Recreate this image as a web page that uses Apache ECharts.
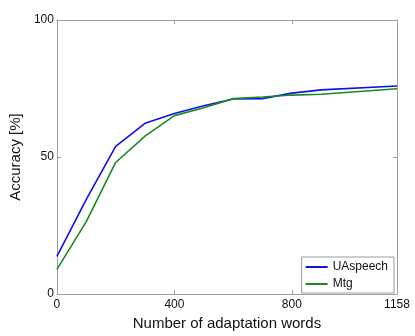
<!DOCTYPE html>
<html>
<head>
<meta charset="utf-8">
<script src="https://cdn.jsdelivr.net/npm/echarts@6/dist/echarts.min.js"></script>
<style>
  html, body { margin: 0; padding: 0; background: #fff; }
  #chart { width: 415px; height: 336px; }
</style>
</head>
<body>
<div id="chart"></div>
<script>
// adaptation word counts
const words = [0, 100, 200, 300, 400, 500, 600, 700, 800, 900, 1158];
const uaspeech = [13.7, 34.5, 53.9, 62.3, 65.9, 68.7, 71.2, 71.3, 73.3, 74.5, 75.9];
const mtg = [9.0, 26.4, 48.0, 57.6, 65.1, 68.0, 71.3, 71.9, 72.6, 72.9, 74.9];
const seriesNames = ['UAspeech', 'Mtg'];

const font = 'Liberation Sans, Arial, sans-serif';
const frame = '#a0a0a0';

const chart = echarts.init(document.getElementById('chart'));

function pairs(ys) {
  return words.map((x, i) => [x, ys[i]]);
}

const xBase = {
  type: 'value',
  min: 0,
  max: 1158,
  interval: 400,
  axisLine: { show: true, onZero: false, lineStyle: { color: frame, width: 1 } },
  axisTick: { show: true, inside: true, length: 4, lineStyle: { color: frame } },
  splitLine: { show: false }
};
const yBase = {
  type: 'value',
  min: 0,
  max: 100,
  interval: 50,
  axisLine: { show: true, onZero: false, lineStyle: { color: frame, width: 1 } },
  axisTick: { show: true, inside: true, length: 4, lineStyle: { color: frame } },
  splitLine: { show: false }
};

const option = {
  animation: false,
  backgroundColor: '#fff',
  grid: { left: 46, right: 18, top: 20, bottom: 39 },
  legend: {
    data: seriesNames,
    orient: 'vertical',
    right: 21,
    bottom: 43,
    icon: 'rect',
    itemWidth: 22,
    itemHeight: 2,
    itemGap: 3,
    padding: [3, 6, 2, 4],
    borderColor: '#9a9a9a',
    borderWidth: 1,
    borderRadius: 0,
    backgroundColor: '#fff',
    textStyle: { fontFamily: font, fontSize: 12, color: '#111', lineHeight: 14 }
  },
  xAxis: [
    Object.assign({}, xBase, {
      position: 'bottom',
      name: 'Number of adaptation words',
      nameLocation: 'middle',
      nameGap: 22,
      nameTextStyle: { fontFamily: font, fontSize: 15, color: '#111' },
      axisLabel: {
        show: true, margin: 5, showMaxLabel: true,
        fontFamily: font, fontSize: 12, color: '#111',
        formatter: v => String(v)
      }
    }),
    Object.assign({}, xBase, { position: 'top', axisLabel: { show: false } })
  ],
  yAxis: [
    Object.assign({}, yBase, {
      position: 'left',
      name: 'Accuracy [%]',
      nameLocation: 'middle',
      nameGap: 29,
      nameTextStyle: { fontFamily: font, fontSize: 15, color: '#111' },
      axisLabel: { show: true, margin: 3, fontFamily: font, fontSize: 12, color: '#111' }
    }),
    Object.assign({}, yBase, { position: 'right', axisLabel: { show: false } })
  ],
  series: [
    {
      name: seriesNames[0],
      type: 'line',
      data: pairs(uaspeech),
      symbol: 'none',
      color: '#1010f0',
      lineStyle: { width: 1.6, color: '#1010f0' },
      z: 3
    },
    {
      name: seriesNames[1],
      type: 'line',
      data: pairs(mtg),
      symbol: 'none',
      color: '#1a8a1a',
      lineStyle: { width: 1.6, color: '#1a8a1a' },
      z: 4
    }
  ]
};

chart.setOption(option);
</script>
</body>
</html>
